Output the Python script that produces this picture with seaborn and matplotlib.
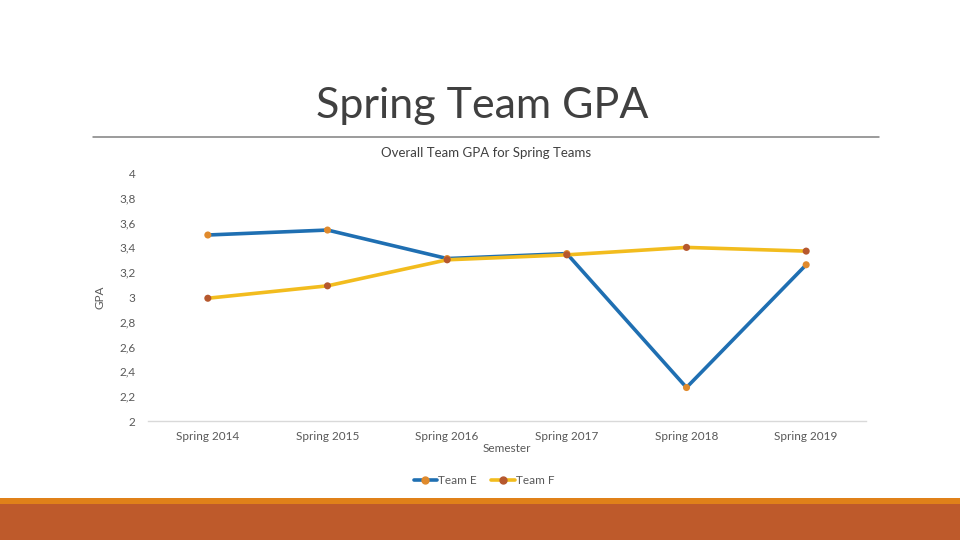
import matplotlib
matplotlib.use("Agg")
import matplotlib.pyplot as plt
import seaborn as sns
import pandas as pd
from matplotlib.lines import Line2D

semesters = ["Spring 2014", "Spring 2015", "Spring 2016", "Spring 2017", "Spring 2018", "Spring 2019"]
team_e = [3.50, 3.54, 3.31, 3.35, 2.27, 3.26]
team_f = [2.99, 3.09, 3.30, 3.34, 3.40, 3.37]
y_ticks = [2, 2.2, 2.4, 2.6, 2.8, 3, 3.2, 3.4, 3.6, 3.8, 4]
y_tick_labels = ["2", "2,2", "2,4", "2,6", "2,8", "3", "3,2", "3,4", "3,6", "3,8", "4"]

sns.set_theme(style="white")
plt.rcParams['font.family'] = ['Lato', 'DejaVu Sans']

df = pd.DataFrame({
    "Semester": semesters * 2,
    "GPA": team_e + team_f,
    "Team": ["Team E"] * len(semesters) + ["Team F"] * len(semesters),
})

fig = plt.figure(figsize=(9.6, 5.4), dpi=100)
ax = fig.add_axes([148 / 960, 1 - 421 / 540, (866 - 148) / 960, (421 - 173) / 540])

line_colors = {"Team E": "#1F6FB2", "Team F": "#F2BC1E"}
marker_colors = {"Team E": "#E08A2C", "Team F": "#B6582E"}

sns.lineplot(data=df, x="Semester", y="GPA", hue="Team", palette=line_colors,
             linewidth=2.6, ax=ax, legend=False, sort=False)
for team in ["Team E", "Team F"]:
    sub = df[df["Team"] == team]
    sns.scatterplot(data=sub, x="Semester", y="GPA", color=marker_colors[team],
                    s=26, edgecolor="none", ax=ax, legend=False, zorder=5)

ax.set_xlim(-0.5, len(semesters) - 0.5)
ax.set_ylim(2, 4)
ax.set_yticks(y_ticks)
ax.set_yticklabels(y_tick_labels)
for s in ["top", "right", "left"]:
    ax.spines[s].set_visible(False)
ax.spines["bottom"].set_color("#D9D9D9")
ax.spines["bottom"].set_linewidth(1)
ax.tick_params(axis="both", length=0, labelsize=8.5, colors="#595959")
ax.tick_params(axis="y", pad=9)
ax.tick_params(axis="x", pad=7)
ax.set_xlabel("Semester", fontsize=8.5, color="#595959", labelpad=1)
ax.set_ylabel("GPA", fontsize=8.5, color="#595959", labelpad=10)
ax.grid(False)

# Legend
handles = [
    Line2D([0], [0], color=line_colors[t], lw=2.6, marker="o", markersize=5,
           markerfacecolor=marker_colors[t], markeredgecolor=marker_colors[t])
    for t in ["Team E", "Team F"]
]
fig.legend(handles, ["Team E", "Team F"], loc="center", bbox_to_anchor=(484 / 960, 1 - 481 / 540),
           ncol=2, frameon=False, fontsize=8.5, handlelength=2.0, handletextpad=0.1,
           columnspacing=1.2, labelcolor="#595959")

# Slide title and chart title
fig.text(482 / 960, 1 - 106 / 540, "Spring Team GPA", ha="center", va="center",
         fontsize=31, color="#404040", fontweight="normal")
fig.add_artist(Line2D([93 / 960, 879 / 960], [1 - 136.5 / 540, 1 - 136.5 / 540],
                      color="#808080", lw=1.1))
fig.text(486 / 960, 1 - 153 / 540, "Overall Team GPA for Spring Teams", ha="center", va="center",
         fontsize=9.5, color="#404040")

# Bottom decorative bars
fig.add_artist(plt.Rectangle((0, 1 - 504 / 540), 1, 6 / 540, transform=fig.transFigure,
                             color="#E08119", lw=0))
fig.add_artist(plt.Rectangle((0, 0), 1, 36 / 540, transform=fig.transFigure,
                             color="#BE5A2B", lw=0))

fig.savefig("out.png", dpi=100)
